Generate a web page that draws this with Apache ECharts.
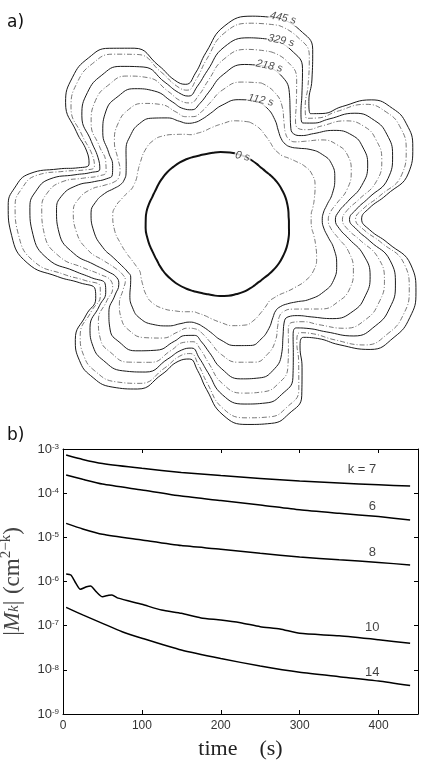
<!DOCTYPE html>
<html>
<head>
<meta charset="utf-8">
<script src="https://cdn.jsdelivr.net/npm/echarts@6/dist/echarts.min.js"></script>
<style>
  html, body { margin: 0; padding: 0; background: #fff; }
  #main { width: 436px; height: 767px; }
</style>
</head>
<body>
<div id="main"></div>
<script>
// ---- panel a: growing 7-lobed front, radius in px ----
// angles measured clockwise from the top
const lobePeakAngles = [17, 62, 116, 165, 220, 275, 322];
const lobeTroughAngles = [40, 88, 143, 192, 242, 295, 347];
// how far each lobe has grown compared with the average one
const lobeGrowth = [1.02, 1.01, 1.01, 0.96, 0.9, 0.99, 0.99];
const startRadius = 72;
// where along peak -> trough the profile radii sit
const profileFrac = [0, 0.25, 0.5, 0.7, 0.85, 1];
// radius of each front from the lobe tip down to the trough
const front0 = [72.5, 72.5, 72, 71.5, 71, 71];
const front56 = [106, 104, 99.5, 96, 93.5, 93];
const front112 = [128, 125, 118, 110, 105.5, 104];
const front165 = [146, 142.5, 133, 120, 112.5, 110];
const front218 = [163, 160, 148, 131, 121, 117];
const front273 = [178, 175, 163, 142, 129, 124];
const front329 = [190, 186.5, 175, 152, 138, 131];
const front387 = [205, 201, 189, 163, 145, 137];
const front445 = [212, 208, 196, 170, 151, 143];

const frontLabels = ['0 s', '112 s', '218 s', '329 s', '445 s'];
const frontLabelR = [72, 131, 166, 194, 216];
const frontLabelAngle = [20, 19, 18, 19, 17.5];

// ---- panel b: |M_k| vs time ----
const tMain = [4, 25, 50, 100, 150, 200, 250, 300, 350, 400, 440];
const k7 = [7.3e-4, 5.8e-4, 4.7e-4, 3.65e-4, 2.95e-4, 2.5e-4, 2.16e-4, 1.88e-4, 1.7e-4, 1.55e-4, 1.45e-4];
const k6 = [2.58e-4, 2.06e-4, 1.61e-4, 1.18e-4, 8.6e-5, 6.8e-5, 5.4e-5, 4.2e-5, 3.5e-5, 2.95e-5, 2.47e-5];
const k8 = [2.07e-5, 1.55e-5, 1.17e-5, 8.7e-6, 6.5e-6, 5.4e-6, 4.35e-6, 3.6e-6, 3.1e-6, 2.7e-6, 2.37e-6];
const t10 = [4, 10, 15, 22, 30, 35, 42, 50, 58, 62, 70, 100, 125, 150, 175, 200, 225, 250, 275, 300, 350, 400, 440];
const k10 = [1.48e-6, 1.4e-6, 1.0e-6, 6.65e-7, 7.6e-7, 7.9e-7, 5.9e-7, 4.5e-7, 4.9e-7, 4.95e-7, 4.2e-7, 3.04e-7, 2.26e-7, 1.9e-7, 1.5e-7, 1.35e-7, 1.17e-7, 9.5e-8, 8.4e-8, 6.7e-8, 5.9e-8, 4.8e-8, 4.0e-8];
const t14 = [4, 25, 50, 75, 100, 150, 200, 250, 300, 350, 400, 440];
const k14 = [2.6e-7, 1.75e-7, 1.13e-7, 7.3e-8, 5.2e-8, 2.8e-8, 1.8e-8, 1.22e-8, 8.8e-9, 7.0e-9, 5.6e-9, 4.4e-9];

const curveLabels = ['k = 7', '6', '8', '10', '14'];
const curveLabelT = [379, 392, 392, 392, 392];
const curveLabelV = [3.5e-4, 4.9e-5, 4.66e-6, 8.9e-8, 8.9e-9];

// closed polar outline: every lobe uses the same tip->trough profile
function grow(r, g) {
  return startRadius + (r - startRadius) * g;
}
function frontPoints(radii) {
  var pts = [];
  var n = profileFrac.length;
  for (var i = 0; i < 7; i++) {
    var p = lobePeakAngles[i];
    var t = lobeTroughAngles[i];
    if (t < p) t += 360;
    var pNext = lobePeakAngles[(i + 1) % 7];
    if (pNext < t) pNext += 360;
    var g = lobeGrowth[i], gNext = lobeGrowth[(i + 1) % 7];
    for (var j = 0; j < n - 1; j++) pts.push([grow(radii[j], g), p + profileFrac[j] * (t - p)]);
    pts.push([grow(radii[n - 1], (g + gNext) / 2), t]);
    for (var j = n - 2; j >= 1; j--) pts.push([grow(radii[j], gNext), pNext - profileFrac[j] * (pNext - t)]);
  }
  pts.push(pts[0]);
  return pts.map(function (d) { return [d[0], d[1] % 360]; });
}

var dashDot = [5, 2, 1, 2];
function frontSeries(radii, kind) {
  var ls = { color: '#1a1a1a', width: 1, type: 'solid' };
  if (kind === 'thick') ls = { color: '#111', width: 2, type: 'solid' };
  if (kind === 'dd') ls = { color: '#555', width: 0.8, type: dashDot };
  return {
    type: 'line',
    coordinateSystem: 'polar',
    polarIndex: 0,
    data: frontPoints(radii),
    smooth: 0.5,
    symbol: 'none',
    clip: false,
    lineStyle: ls,
    z: 2
  };
}

function curve(ts, vs) {
  return {
    type: 'line',
    xAxisIndex: 0,
    yAxisIndex: 0,
    data: ts.map(function (t, i) { return [t, vs[i]]; }),
    symbol: 'none',
    smooth: 0.2,
    lineStyle: { color: '#000', width: 1.5 }
  };
}

var chart = echarts.init(document.getElementById('main'), null, { renderer: 'canvas' });

var supRich = {
  b: { fontSize: 13, lineHeight: 13, color: '#333', fontFamily: 'Liberation Sans', verticalAlign: 'bottom' },
  s: { fontSize: 8, lineHeight: 8, color: '#333', fontFamily: 'Liberation Sans', verticalAlign: 'top', padding: [0, 0, 6, 0] }
};
var nameFont = 'Liberation Serif';

var option = {
  animation: false,
  backgroundColor: '#fff',
  textStyle: { fontFamily: 'Liberation Sans' },
  graphic: [
    { type: 'text', left: 7, top: 14, style: { text: 'a)', font: '17px "DejaVu Sans"', fill: '#111' } },
    { type: 'text', left: 7, top: 427, style: { text: 'b)', font: '17px "DejaVu Sans"', fill: '#111' } }
  ],
  polar: { center: [218, 224], radius: 220 },
  radiusAxis: { min: 0, max: 220, show: false },
  angleAxis: { type: 'value', min: 0, max: 360, startAngle: 90, clockwise: true, show: false },
  grid: { left: 63, top: 449, width: 355, height: 265, outerBoundsMode: 'none' },
  xAxis: [{
    type: 'value', gridIndex: 0, position: 'bottom', min: 0, max: 450, interval: 100,
    axisLine: { show: true, onZero: false, lineStyle: { color: '#000', width: 1 } },
    axisTick: { show: true, inside: true, length: 4, lineStyle: { color: '#000' } },
    axisLabel: { show: true, showMaxLabel: false, color: '#333', fontSize: 12, fontFamily: 'Liberation Sans', margin: 6 },
    splitLine: { show: false },
    name: 'time    (s)', nameLocation: 'middle', nameGap: 24,
    nameTextStyle: { fontFamily: nameFont, fontSize: 22, color: '#222' }
  }, {
    type: 'value', gridIndex: 0, position: 'top', min: 0, max: 450, interval: 100,
    axisLine: { show: true, onZero: false, lineStyle: { color: '#000', width: 1 } },
    axisTick: { show: true, inside: true, length: 4, lineStyle: { color: '#000' } },
    axisLabel: { show: false },
    splitLine: { show: false }
  }],
  yAxis: [{
    type: 'log', logBase: 10, gridIndex: 0, position: 'left', min: 1e-9, max: 1e-3,
    axisLine: { show: true, onZero: false, lineStyle: { color: '#000', width: 1 } },
    axisTick: { show: true, inside: true, length: 4, lineStyle: { color: '#000' } },
    axisLabel: {
      margin: 4,
      formatter: function (v) {
        var e = Math.round(Math.log10(v));
        return '{b|10}{s|' + e + '}';
      },
      rich: supRich
    },
    splitLine: { show: false },
    minorTick: { show: false },
    name: '{n||}{m|M}{k|k}{n||}  {n|(cm}{e|2\u2212k}{n|)}',
    nameLocation: 'middle', nameRotate: 90, nameGap: 31,
    nameTextStyle: {
      rich: {
        n: { fontFamily: nameFont, fontSize: 23, lineHeight: 23, padding: [7, 0, 2, 0], color: '#444' },
        m: { fontFamily: nameFont, fontStyle: 'italic', fontSize: 23, lineHeight: 23, padding: [7, 0, 2, 0], color: '#444' },
        k: { fontFamily: nameFont, fontStyle: 'italic', fontSize: 15, lineHeight: 15, verticalAlign: 'bottom', color: '#444' },
        e: { fontFamily: nameFont, fontSize: 15, lineHeight: 15, verticalAlign: 'top', color: '#444' }
      }
    }
  }, {
    type: 'log', logBase: 10, gridIndex: 0, position: 'right', min: 1e-9, max: 1e-3,
    axisLine: { show: true, onZero: false, lineStyle: { color: '#000', width: 1 } },
    axisTick: { show: true, inside: true, length: 4, lineStyle: { color: '#000' } },
    axisLabel: { show: false },
    splitLine: { show: false }
  }],
  series: [
    frontSeries(front0, 'thick'),
    frontSeries(front56, 'dd'),
    frontSeries(front112, 'solid'),
    frontSeries(front165, 'dd'),
    frontSeries(front218, 'solid'),
    frontSeries(front273, 'dd'),
    frontSeries(front329, 'solid'),
    frontSeries(front387, 'dd'),
    frontSeries(front445, 'solid'),
    {
      type: 'scatter',
      coordinateSystem: 'polar',
      polarIndex: 0,
      symbolSize: 0,
      z: 5,
      data: frontLabels.map(function (name, i) {
        return { name: name, value: [frontLabelR[i], frontLabelAngle[i]] };
      }),
      label: {
        show: true, position: 'inside', formatter: '{b}', rotate: -12,
        fontFamily: 'Liberation Sans', fontStyle: 'italic', fontSize: 11, color: '#222',
        backgroundColor: '#fff', padding: [0, 1]
      }
    },
    curve(tMain, k7),
    curve(tMain, k6),
    curve(tMain, k8),
    curve(t10, k10),
    curve(t14, k14),
    {
      type: 'scatter',
      xAxisIndex: 0,
      yAxisIndex: 0,
      symbolSize: 0,
      data: curveLabels.map(function (name, i) {
        return { name: name, value: [curveLabelT[i], curveLabelV[i]] };
      }),
      label: {
        show: true, position: 'inside', formatter: '{b}',
        fontFamily: 'Liberation Sans', fontSize: 13, color: '#111'
      }
    }
  ]
};

chart.setOption(option);
</script>
</body>
</html>
